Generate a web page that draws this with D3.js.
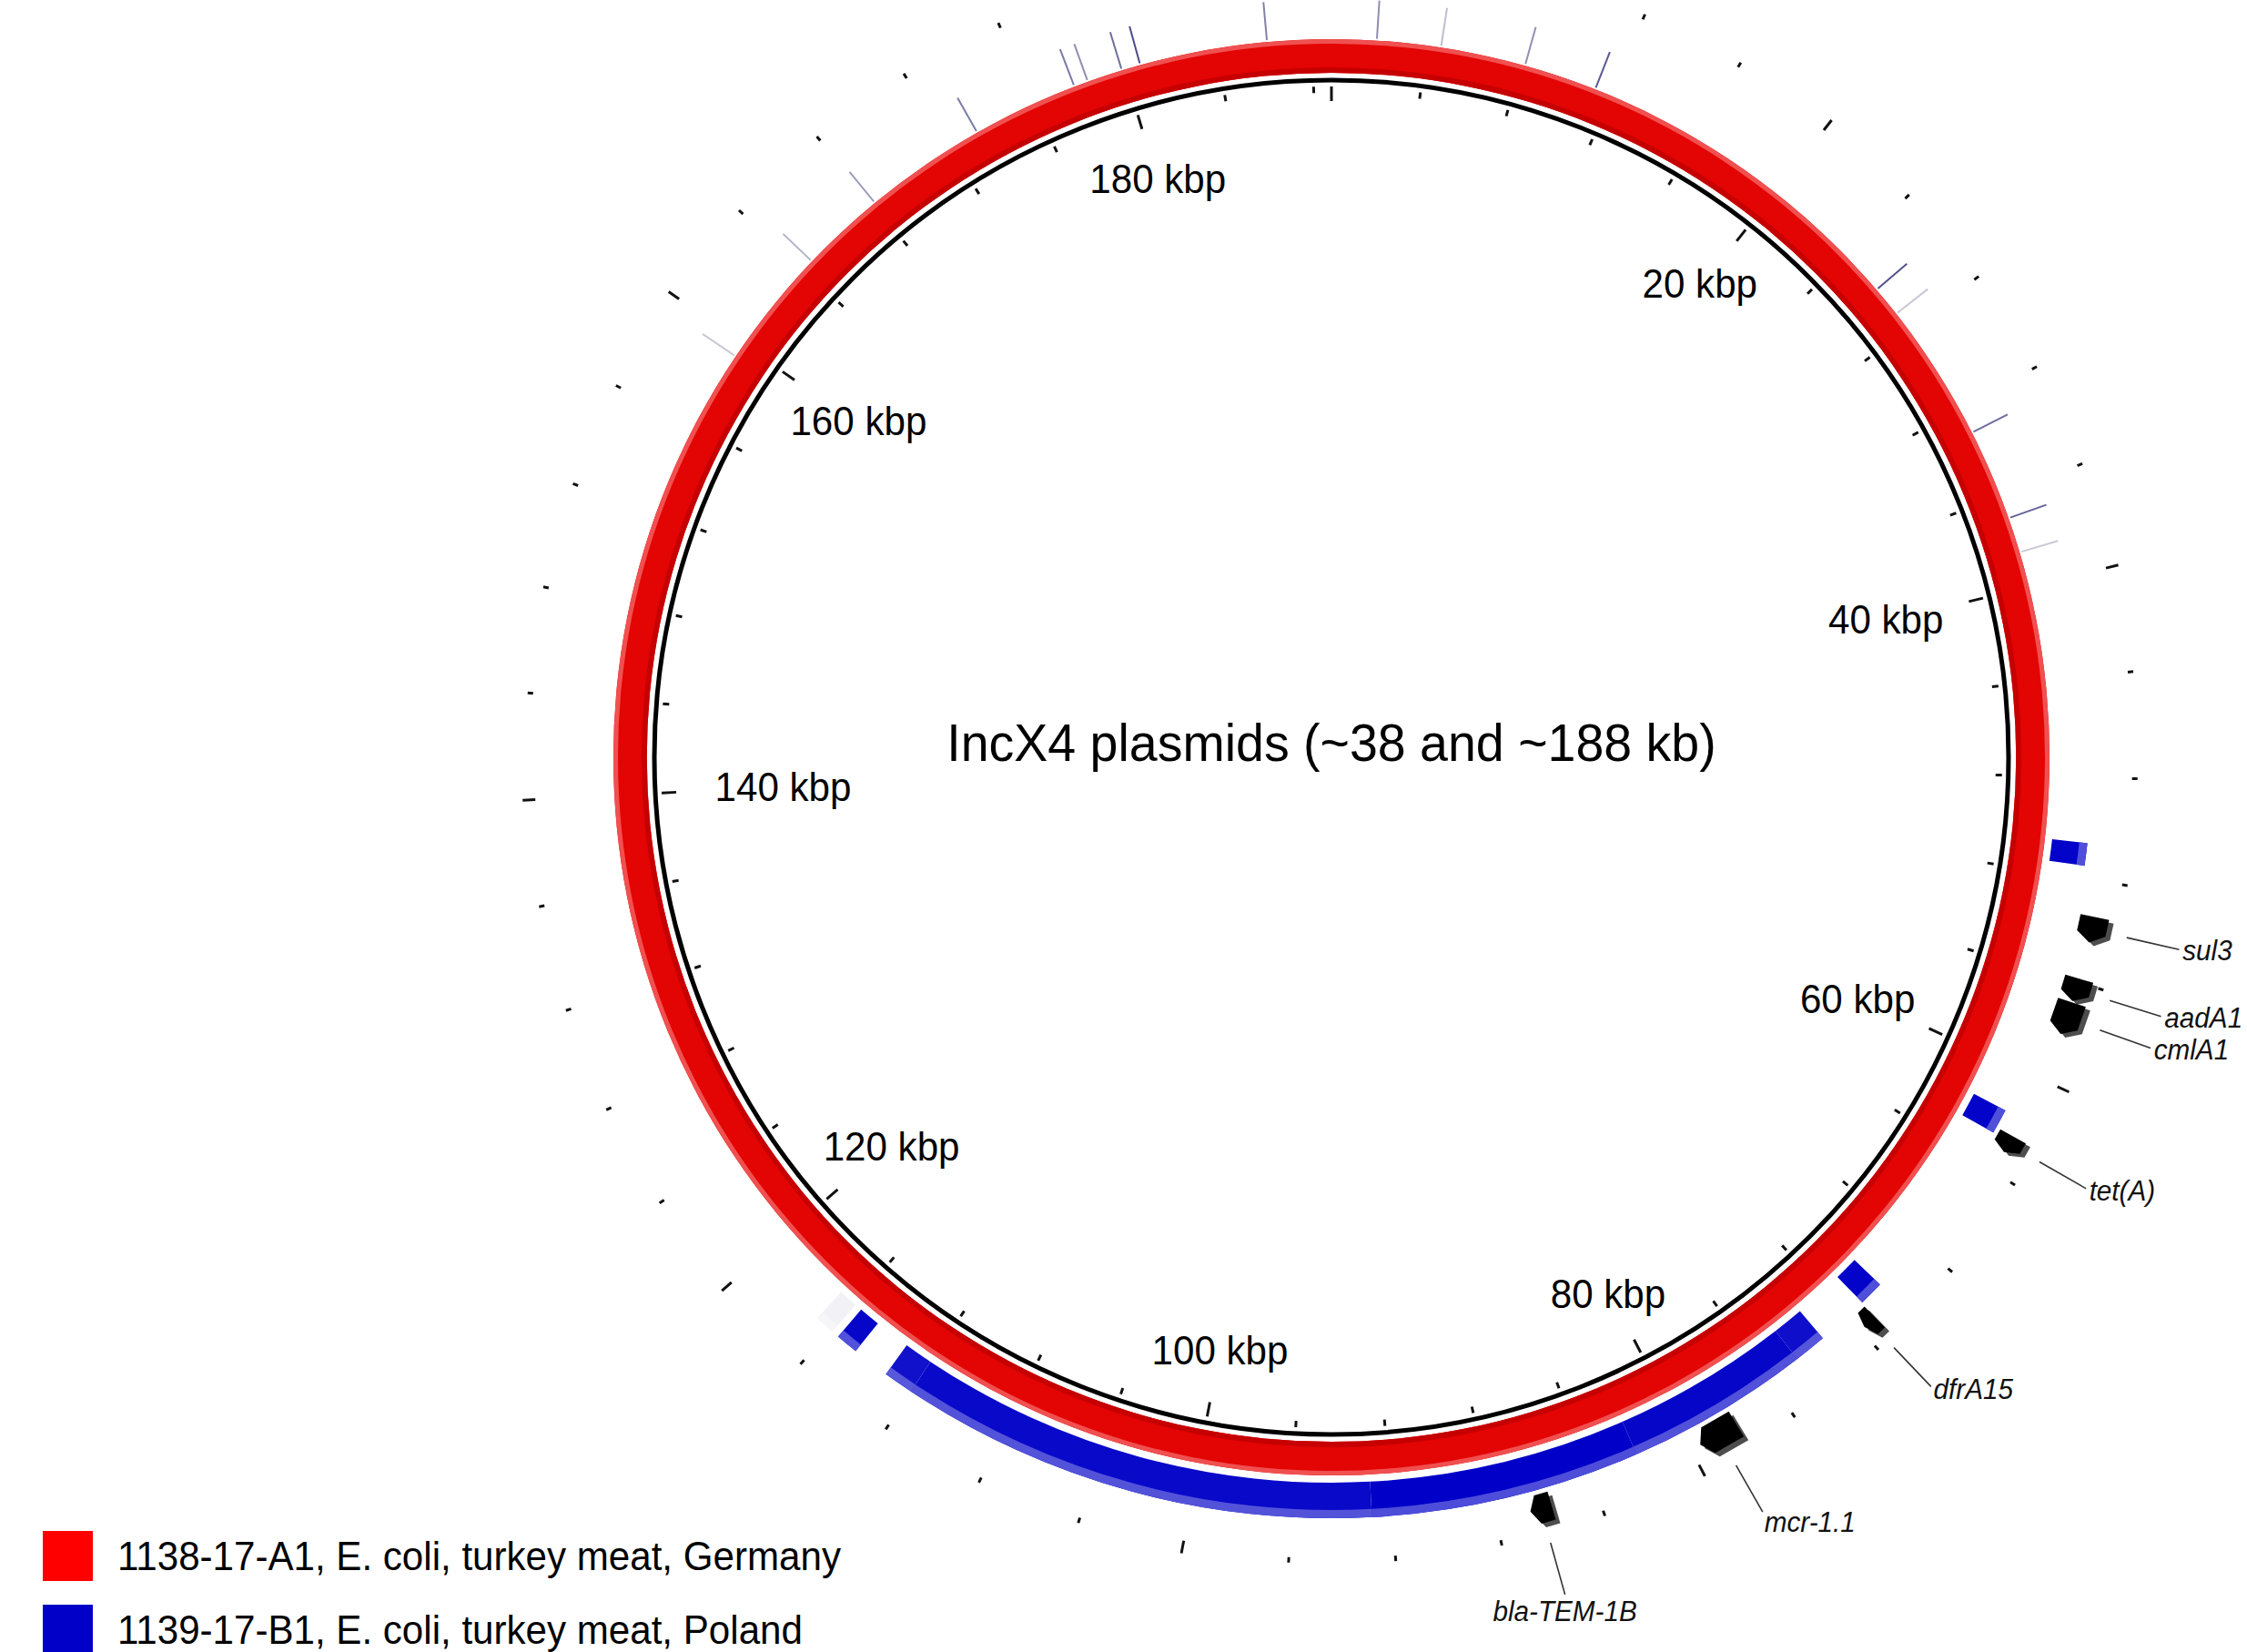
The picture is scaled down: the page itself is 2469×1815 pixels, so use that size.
<!DOCTYPE html>
<html>
<head>
<meta charset="utf-8">
<script src="https://cdn.jsdelivr.net/npm/d3@7"></script>
<style>
  body { margin: 0; background: #fff; }
  svg { display: block; font-family: "Liberation Sans", Arial, sans-serif; }
</style>
</head>
<body>
<svg id="chart"></svg>
<script>
// reference plasmid (1138-17-A1) length in bp
const plasmidLength = 188800;

// ruler: small tick every 4 kb, labelled tick every 20 kb
const tickStep = 4000;
const labelStep = 20000;

// blast hits of 1139-17-B1 on the reference (bp) and their identity (%)
const hitStarts   = [50600, 61700, 70200, 73300, 74600, 82000, 92800, 112000, 114700, 115900];
const hitEnds     = [51500, 62700, 71200, 74600, 82000, 92800, 112000, 113200, 115600, 116700];
const hitIdentity = [99,    99,    99,    95,    98,    100,   97,    94,     98,     15];

// very short hits, only visible as thin lines
const shortHitPos      = [159400, 164500, 168100, 173300, 177800, 178400, 179900, 180700, 186100,
                          1900, 4600, 8200, 11300, 25900, 27200, 33100, 37000, 38500];
const shortHitIdentity = [55, 62, 68, 78, 78, 72, 82, 92, 76,
                          72, 58, 72, 88, 90, 55, 82, 85, 55];

// antimicrobial resistance genes
const geneNames  = ["sul3", "aadA1", "cmlA1", "tet(A)", "dfrA15", "mcr-1.1", "bla-TEM-1B"];
const geneStarts = [53400, 55850, 56800, 62450, 71250, 78000, 85800];
const geneEnds   = [54400, 56750, 58100, 63150, 71800, 79600, 86650];

const legendLabels = ["1138-17-A1, E. coli, turkey meat, Germany", "1139-17-B1, E. coli, turkey meat, Poland"];
const titleText = "IncX4 plasmids (~38 and ~188 kb)";

// dimensions
const width = 2469, height = 1815;
const cx = 1463, cy = 832;
const rad = {
    tickIn: 721, tickMinor: 730, tickOut: 737,
    backbone: 744,
    refIn: 752, refOut: 789,
    hitIn: 797, hitOut: 836,
    shortIn: 791, shortOut: 833,
    geneIn: 841, geneOut: 873,
    outer: 883,
    leaderIn: 896, leaderOut: 955, label: 959
};

const svg = d3.select("#chart")
    .attr("width", width)
    .attr("height", height)
    .attr("viewBox", `0 0 ${width} ${height}`);

svg.append("rect").attr("width", width).attr("height", height).attr("fill", "#fff");

const g = svg.append("g");

// bp -> angle (0 at top, clockwise)
const angle = d3.scaleLinear().domain([0, plasmidLength]).range([0, 2 * Math.PI]);
const hitColor = d3.scaleLinear().domain([15, 100]).range(["#f2f2f6", "#0000c8"]);
const lineColor = d3.scaleLinear().domain([50, 100]).range(["#dadae0", "#30307a"]);
const legendColor = d3.scaleOrdinal().domain(legendLabels).range(["#ff0000", "#0000c8"]);

const pt = (bp, r) => [cx + r * Math.sin(angle(bp)), cy - r * Math.cos(angle(bp))];
const arc = d3.arc();

// squeeze text a bit, the original font is narrower than Arial
function condense(sel) {
    sel.each(function () {
        const len = this.getComputedTextLength();
        d3.select(this).attr("textLength", len * 0.957).attr("lengthAdjust", "spacingAndGlyphs");
    });
}

// ticks
const ticks = d3.range(0, plasmidLength, tickStep);

// inner ruler
g.append("g").selectAll("line")
    .data(ticks)
    .join("line")
    .attr("x1", d => pt(d, d % labelStep === 0 ? rad.tickIn : rad.tickMinor)[0])
    .attr("y1", d => pt(d, d % labelStep === 0 ? rad.tickIn : rad.tickMinor)[1])
    .attr("x2", d => pt(d, rad.tickOut)[0])
    .attr("y2", d => pt(d, rad.tickOut)[1])
    .attr("stroke", "#111")
    .attr("stroke-width", 3);

// backbone
g.append("circle")
    .attr("cx", cx).attr("cy", cy).attr("r", rad.backbone)
    .attr("fill", "none")
    .attr("stroke", "#000")
    .attr("stroke-width", 5);

// reference ring, with darker inner and lighter outer edge
const ringBands = [
    [rad.refIn, rad.refOut, "#e30404"],
    [rad.refIn, rad.refIn + 6, "#c60000"],
    [rad.refOut - 5, rad.refOut, "#f05050"]
];
ringBands.forEach(b => {
    g.append("path")
        .attr("transform", `translate(${cx},${cy})`)
        .attr("d", arc({ innerRadius: b[0], outerRadius: b[1], startAngle: 0, endAngle: 2 * Math.PI }))
        .attr("fill", b[2]);
});

// blast hits of the second plasmid
const hits = hitStarts.map((s, i) => ({ start: s, end: hitEnds[i], id: hitIdentity[i] }));
const hitG = g.append("g").attr("transform", `translate(${cx},${cy})`);
hitG.selectAll("path.hit")
    .data(hits)
    .join("path")
    .attr("class", "hit")
    .attr("d", d => arc({ innerRadius: rad.hitIn, outerRadius: rad.hitOut, startAngle: angle(d.start), endAngle: angle(d.end) }))
    .attr("fill", d => hitColor(d.id));
hitG.selectAll("path.edge")
    .data(hits)
    .join("path")
    .attr("class", "edge")
    .attr("d", d => arc({ innerRadius: rad.hitOut - 9, outerRadius: rad.hitOut, startAngle: angle(d.start), endAngle: angle(d.end) }))
    .attr("fill", d => d3.interpolateRgb(hitColor(d.id), "#fff")(0.3));

// short hits as thin lines
const shortHits = shortHitPos.map((p, i) => ({ pos: p, id: shortHitIdentity[i] }));
g.append("g").selectAll("line")
    .data(shortHits)
    .join("line")
    .attr("x1", d => pt(d.pos, rad.shortIn)[0])
    .attr("y1", d => pt(d.pos, rad.shortIn)[1])
    .attr("x2", d => pt(d.pos, rad.shortOut)[0])
    .attr("y2", d => pt(d.pos, rad.shortOut)[1])
    .attr("stroke", d => lineColor(d.id))
    .attr("stroke-width", 2);

// genes, drawn as arrows with a grey side face
const genes = geneNames.map((n, i) => ({ name: n, start: geneStarts[i], end: geneEnds[i], mid: (geneStarts[i] + geneEnds[i]) / 2 }));
const arrowPath = d => {
    const head = Math.min(350, (d.end - d.start) * 0.35);
    const midR = (rad.geneIn + rad.geneOut) / 2;
    const pts = [
        pt(d.start, rad.geneIn), pt(d.end - head, rad.geneIn), pt(d.end, midR),
        pt(d.end - head, rad.geneOut), pt(d.start, rad.geneOut)
    ];
    return d3.line()(pts) + "Z";
};
const geneG = g.append("g");
geneG.selectAll("path.side")
    .data(genes)
    .join("path")
    .attr("class", "side")
    .attr("transform", "translate(5,4)")
    .attr("d", arrowPath)
    .attr("fill", "#4d4d4d");
geneG.selectAll("path.face")
    .data(genes)
    .join("path")
    .attr("class", "face")
    .attr("d", arrowPath)
    .attr("fill", "#000");

// outer ruler
g.append("g").selectAll("line")
    .data(ticks)
    .join("line")
    .attr("x1", d => pt(d, rad.outer - (d % labelStep === 0 ? 7 : 3))[0])
    .attr("y1", d => pt(d, rad.outer - (d % labelStep === 0 ? 7 : 3))[1])
    .attr("x2", d => pt(d, rad.outer + (d % labelStep === 0 ? 7 : 3))[0])
    .attr("y2", d => pt(d, rad.outer + (d % labelStep === 0 ? 7 : 3))[1])
    .attr("stroke", "#111")
    .attr("stroke-width", 3);

// ruler labels, pulled in where the text lies sideways (by its width)
const labelTicks = d3.range(labelStep, plasmidLength, labelStep);
const labelText = d => `${d / 1000} kbp`;
const labelR = d => 661 - Math.pow(Math.abs(Math.sin(angle(d))), 4) * (labelText(d).length * 20 - 82);
const labelShift = d => -10 * Math.cos(angle(d)) * Math.abs(Math.sin(angle(d)));
g.append("g").selectAll("text")
    .data(labelTicks)
    .join("text")
    .attr("x", d => pt(d, labelR(d))[0])
    .attr("y", d => pt(d, labelR(d))[1] + labelShift(d))
    .attr("dy", "0.35em")
    .attr("text-anchor", "middle")
    .attr("font-size", 44)
    .attr("fill", "#000")
    .text(labelText)
    .call(condense);

// gene leaders and labels
const deg = d => angle(d) * 180 / Math.PI;
const labelG = g.append("g");
labelG.selectAll("line")
    .data(genes)
    .join("line")
    .attr("x1", d => pt(d.mid, rad.leaderIn)[0])
    .attr("y1", d => pt(d.mid, rad.leaderIn)[1])
    .attr("x2", d => pt(d.mid, rad.leaderOut)[0])
    .attr("y2", d => pt(d.mid, rad.leaderOut)[1])
    .attr("stroke", "#333")
    .attr("stroke-width", 1.6);
labelG.selectAll("text")
    .data(genes)
    .join("text")
    .attr("x", d => pt(d.mid, deg(d.mid) > 160 ? rad.leaderOut : rad.label)[0])
    .attr("y", d => pt(d.mid, deg(d.mid) > 160 ? rad.leaderOut : rad.label)[1])
    .attr("dy", d => deg(d.mid) > 160 ? "0.95em" : deg(d.mid) > 145 ? "0.6em" : "0.35em")
    .attr("text-anchor", d => deg(d.mid) > 160 ? "middle" : "start")
    .attr("font-size", 31)
    .attr("font-style", "italic")
    .attr("fill", "#111")
    .text(d => d.name)
    .call(condense);

// title in the middle
svg.append("text")
    .attr("x", cx)
    .attr("y", 816)
    .attr("dy", "0.35em")
    .attr("text-anchor", "middle")
    .attr("font-size", 58)
    .attr("fill", "#000")
    .text(titleText)
    .call(condense);

// legend
const legend = svg.append("g").attr("transform", "translate(47,1682)");
const rows = legend.selectAll("g")
    .data(legendLabels)
    .join("g")
    .attr("transform", (d, i) => `translate(0,${i * 81})`);
rows.append("rect")
    .attr("width", 55)
    .attr("height", 55)
    .attr("fill", d => legendColor(d));
rows.append("text")
    .attr("x", 82)
    .attr("y", 28)
    .attr("dy", "0.35em")
    .attr("font-size", 44)
    .attr("fill", "#000")
    .text(d => d)
    .call(condense);
</script>
</body>
</html>
